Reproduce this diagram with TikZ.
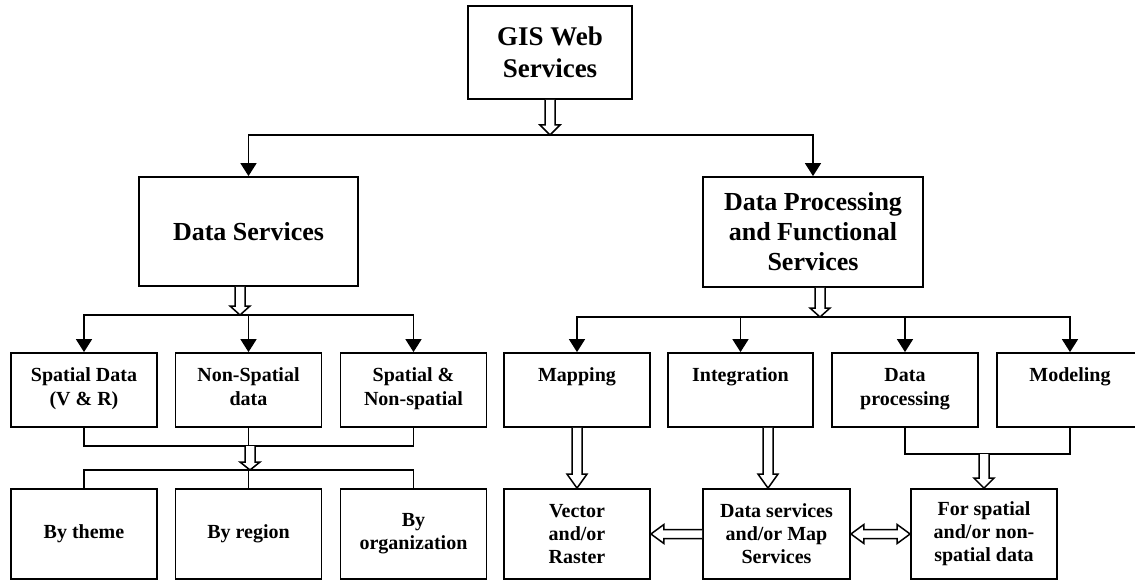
\documentclass[tikz,border=0pt]{standalone}
\usepackage{fontspec}
\setmainfont{Liberation Serif}
\usetikzlibrary{calc,arrows.meta}
\newcommand\tb[1]{\parbox[c][74pt][t]{140pt}{\centering\rule{0pt}{28pt}#1}}
\newcommand\openv[3]{\draw[openarr] ($(#1)+(-5,0)$) -- ($(#2)+(-5,-#3)$) -- ($(#2)+(-10,-#3)$) -- (#2) -- ($(#2)+(10,-#3)$) -- ($(#2)+(5,-#3)$) -- ($(#1)+(5,0)$);}
\newcommand\openl[2]{\draw[openarr] ($(#1)+(0,-4.5)$) -- ($(#2)+(13,-4.5)$) -- ($(#2)+(13,-9.5)$) -- (#2) -- ($(#2)+(13,9.5)$) -- ($(#2)+(13,4.5)$) -- ($(#1)+(0,4.5)$);}
\newcommand\openlr[2]{\draw[openarr] (#1) -- ($(#1)+(13,-9.5)$) -- ($(#1)+(13,-4.5)$) -- ($(#2)+(-13,-4.5)$) -- ($(#2)+(-13,-9.5)$) -- (#2) -- ($(#2)+(-13,9.5)$) -- ($(#2)+(-13,4.5)$) -- ($(#1)+(13,4.5)$) -- ($(#1)+(13,9.5)$) -- cycle;}
\begin{document}
\begin{tikzpicture}[x=1pt,y=-1pt,
  box/.style={draw, line width=1.8pt, inner sep=0pt, align=center, text=black},
  bigbox/.style={box, font=\fontsize{26}{30}\selectfont\bfseries},
  midbox/.style={box, minimum width=146pt, minimum height=74pt, font=\fontsize{20}{24}\selectfont\bfseries},
  lowbox/.style={box, minimum width=146pt, minimum height=90pt, font=\fontsize{20}{23}\selectfont\bfseries},
  conn/.style={line width=1.6pt},
  arr/.style={conn, -{Triangle[length=13pt,width=16pt]}},
  openarr/.style={line width=1.5pt, fill=white, line join=miter}]
\useasboundingbox (0,0) rectangle (1135,580);
\clip (0,0) rectangle (1135,580);
% top level
\node[bigbox, minimum width=164pt, minimum height=93pt, font=\fontsize{27}{32}\selectfont\bfseries] (gis) at (550,52.5) {GIS Web\\Services};
\node[bigbox, minimum width=219pt, minimum height=109pt] (ds) at (248.5,231.5) {Data Services};
\node[bigbox, minimum width=220pt, minimum height=110pt] (dp) at (813,232) {Data Processing\\and Functional\\Services};
% middle row
\node[midbox] (sd) at (84,390) {\tb{Spatial Data\\(V \& R)}};
\node[midbox] (ns) at (248.5,390) {\tb{Non-Spatial\\data}};
\node[midbox] (sn) at (413.5,390) {\tb{Spatial \&\\Non-spatial}};
\node[midbox] (map) at (577,390) {\tb{Mapping}};
\node[midbox, minimum width=145pt] (int) at (740.5,390) {\tb{Integration}};
\node[midbox] (dpr) at (905,390) {\tb{Data\\processing}};
\node[midbox] (mod) at (1070,390) {\tb{Modeling}};
% bottom row
\node[lowbox] (bt) at (84,534) {By theme};
\node[lowbox] (br) at (248.5,534) {By region};
\node[lowbox] (bo) at (413.5,534) {By\\organization};
\node[lowbox] (vec) at (577,534) {Vector\\and/or\\Raster};
\node[lowbox, minimum width=147pt] (dsm) at (776.5,534) {Data services\\and/or Map\\Services};
\node[lowbox] (fsp) at (984,534) {For spatial\\and/or non-\\spatial data};
% top bus
\coordinate (b0) at (550,135);
\draw[arr] (b0) -| (ds.north);
\draw[arr] (b0) -| (dp.north);
\openv{gis.south}{b0}{10}
% data services bus
\coordinate (b1) at (240,315);
\coordinate (dso) at (b1 |- ds.south);
\draw[arr] (b1) -| (sd.north);
\draw[arr] (b1) -| (sn.north);
\draw[arr] (ns.north |- b1) -- (ns.north);
\openv{dso}{b1}{9}
% lower left
\coordinate (b2) at (250,446);
\coordinate (b3) at (250,470);
\draw[conn] (sd.south) |- (b2) -| (sn.south);
\draw[conn] (ns.south) -- (ns.south |- b2);
\draw[conn] (bt.north) |- (b3) -| (bo.north);
\draw[conn] (br.north) -- (br.north |- b3);
\openv{b2}{b3}{8}
% data processing bus
\coordinate (b4) at (820,317);
\coordinate (dpo) at (b4 |- dp.south);
\draw[arr] (b4) -| (map.north);
\draw[arr] (b4) -| (mod.north);
\draw[arr] (int.north |- b4) -- (int.north);
\draw[arr] (dpr.north |- b4) -- (dpr.north);
\openv{dpo}{b4}{9}
% lower right
\openv{map.south}{vec.north}{14}
\coordinate (io) at ($(dsm.north)+(-8.5,0)$);
\coordinate (ii) at (io |- int.south);
\openv{ii}{io}{14}
\coordinate (b5) at (984,454);
\draw[conn] (dpr.south) |- (b5) -| (mod.south);
\openv{b5}{fsp.north}{10}
\openl{dsm.west}{vec.east}
\openlr{dsm.east}{fsp.west}
\end{tikzpicture}
\end{document}
